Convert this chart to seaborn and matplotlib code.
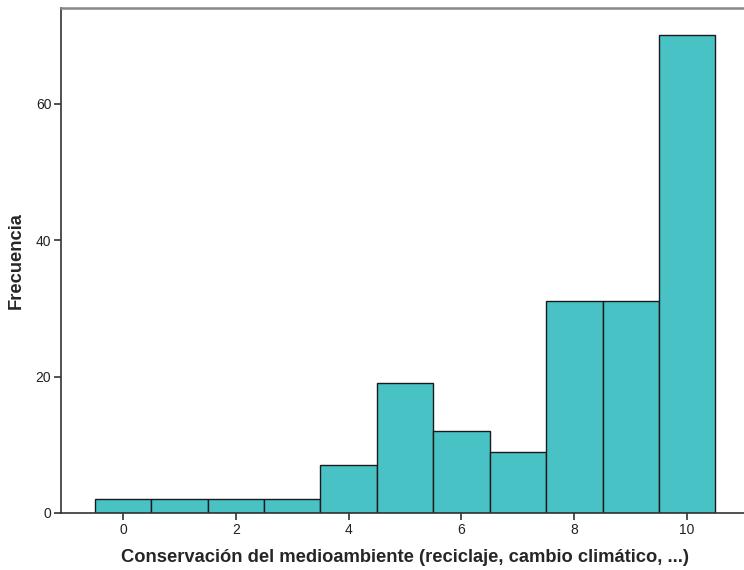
import matplotlib
matplotlib.use("Agg")
import matplotlib.pyplot as plt
import seaborn as sns
import numpy as np

scores = [0, 1, 2, 3, 4, 5, 6, 7, 8, 9, 10]
counts = [2, 2, 2, 2, 7, 19, 12, 9, 31, 31, 70]
x_ticks = [0, 2, 4, 6, 8, 10]
y_ticks = [0, 20, 40, 60]
x_label = "Conservación del medioambiente (reciclaje, cambio climático, ...)"
y_label = "Frecuencia"

sns.set_style("white")
plt.rcParams['font.family'] = ['Liberation Sans', 'DejaVu Sans']

fig = plt.figure(figsize=(7.44, 5.70), dpi=100)
ax = fig.add_axes([61/744, 57/570, 1.0, (513-8)/570])

sns.histplot(x=scores, weights=counts, discrete=True, ax=ax,
             color="#48C2C5", alpha=1.0, edgecolor="#1a1a1a", linewidth=1.0)

ax.set_xlim(-1.1, 12.09)
ax.set_ylim(0, 74.0)
ax.set_xticks(x_ticks)
ax.set_yticks(y_ticks)
ax.tick_params(axis='both', which='both', direction='out', length=5, width=1.2,
               color="#333333", labelsize=10, labelcolor="#222222", pad=2,
               bottom=True, left=True)
ax.set_xlabel(x_label, fontsize=13.2, fontweight='bold')
ax.set_ylabel(y_label, fontsize=13.2, fontweight='bold')
ax.xaxis.set_label_coords((405 - 61) / 744, -(558 - 513) / 505, transform=ax.transAxes)
ax.yaxis.set_label_coords(-(61 - 16) / 744, 0.5, transform=ax.transAxes)
ax.xaxis.label.set_va('center')
ax.yaxis.label.set_va('center')

for side in ['left', 'bottom']:
    ax.spines[side].set_color("#333333")
    ax.spines[side].set_linewidth(1.2)
ax.spines['top'].set_color("#888888")
ax.spines['top'].set_linewidth(1.8)
ax.spines['right'].set_visible(False)

fig.savefig("out.png", dpi=100)
